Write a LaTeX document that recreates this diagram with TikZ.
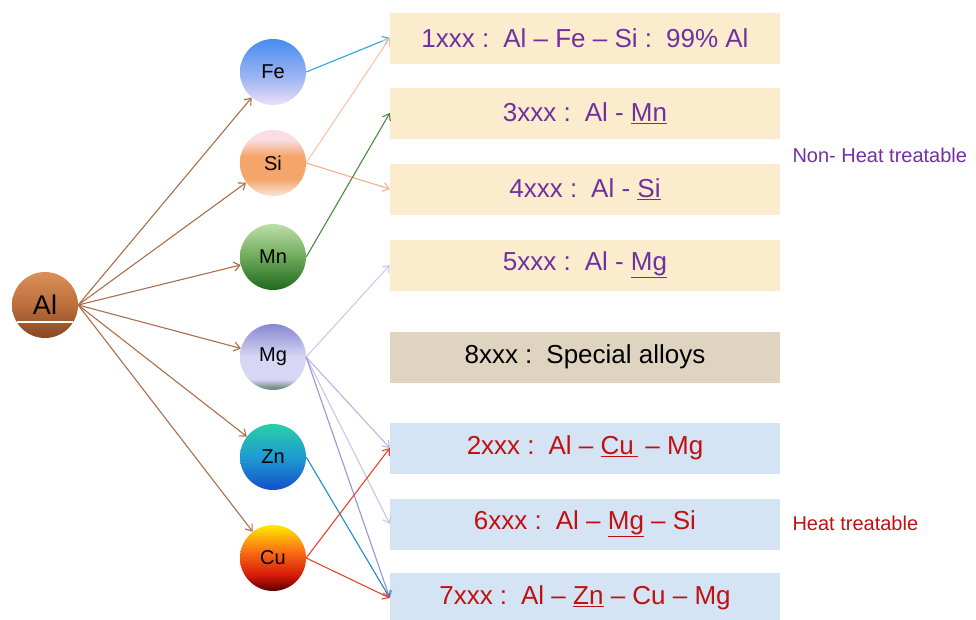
\documentclass[tikz,border=0pt]{standalone}
\usepackage{fontspec}
\setmainfont{Liberation Sans}
\usetikzlibrary{arrows.meta}
\definecolor{nonheat}{RGB}{112,48,160}
\definecolor{heat}{RGB}{192,16,16}
\definecolor{beige}{RGB}{250,236,205}
\definecolor{sand}{RGB}{222,212,192}
\definecolor{icy}{RGB}{212,228,244}
\definecolor{albrown}{RGB}{170,110,75}
\definecolor{felink}{RGB}{40,170,215}
\definecolor{silink}{RGB}{245,175,135}
\definecolor{mnlink}{RGB}{70,140,60}
\definecolor{mglink}{RGB}{150,150,215}
\definecolor{znlink}{RGB}{30,140,200}
\definecolor{culink}{RGB}{232,65,45}
% circle fills
\definecolor{alA}{RGB}{135,72,35}\definecolor{alB}{RGB}{188,110,60}\definecolor{alC}{RGB}{218,145,90}
\definecolor{feA}{RGB}{236,224,248}\definecolor{feB}{RGB}{160,182,242}\definecolor{feC}{RGB}{70,140,240}
\definecolor{siA}{RGB}{250,228,218}\definecolor{siB}{RGB}{245,165,105}\definecolor{siC}{RGB}{250,222,228}
\definecolor{mnA}{RGB}{30,105,30}\definecolor{mnB}{RGB}{110,170,90}\definecolor{mnC}{RGB}{188,222,168}
\definecolor{mgA}{RGB}{120,145,135}\definecolor{mgB}{RGB}{215,215,245}\definecolor{mgC}{RGB}{135,135,210}
\definecolor{znA}{RGB}{20,80,200}\definecolor{znB}{RGB}{30,155,210}\definecolor{znC}{RGB}{40,208,165}
\definecolor{cuA}{RGB}{90,0,0}\definecolor{cuB}{RGB}{215,25,10}\definecolor{cuC}{RGB}{250,110,20}\definecolor{cuD}{RGB}{255,235,0}
\pgfdeclareverticalshading{alshade}{100bp}{color(0bp)=(alA); color(25bp)=(alA); color(50bp)=(alB); color(75bp)=(alC); color(100bp)=(alC)}
\pgfdeclareverticalshading{feshade}{100bp}{color(0bp)=(feA); color(25bp)=(feA); color(45bp)=(feB); color(75bp)=(feC); color(100bp)=(feC)}
\pgfdeclareverticalshading{sishade}{100bp}{color(0bp)=(siA); color(25bp)=(siA); color(38bp)=(siB); color(55bp)=(siB); color(68bp)=(siC); color(100bp)=(siC)}
\pgfdeclareverticalshading{mnshade}{100bp}{color(0bp)=(mnA); color(25bp)=(mnA); color(50bp)=(mnB); color(75bp)=(mnC); color(100bp)=(mnC)}
\pgfdeclareverticalshading{mgshade}{100bp}{color(0bp)=(mgA); color(27bp)=(mgA); color(33bp)=(mgB); color(50bp)=(mgB); color(75bp)=(mgC); color(100bp)=(mgC)}
\pgfdeclareverticalshading{znshade}{100bp}{color(0bp)=(znA); color(25bp)=(znA); color(50bp)=(znB); color(75bp)=(znC); color(100bp)=(znC)}
\pgfdeclareverticalshading{cushade}{100bp}{color(0bp)=(cuA); color(25bp)=(cuA); color(37bp)=(cuB); color(55bp)=(cuC); color(75bp)=(cuD); color(100bp)=(cuD)}
\begin{document}
\begin{tikzpicture}[x=1pt,y=-1pt,
    elem/.style={circle, minimum size=66pt, inner sep=0pt, shading=#1, font=\fontsize{20}{20}\selectfont},
    alloy/.style={minimum width=390pt, minimum height=51pt, inner sep=0pt, font=\fontsize{26}{26}\selectfont},
    side/.style={anchor=west, font=\fontsize{20}{20}\selectfont},
    link/.style={-{Straight Barb[length=6pt,width=9pt]}, line width=1.1pt}]
  \useasboundingbox (0,0) rectangle (976,619);
  % elements
  \node[elem=alshade, font=\fontsize{27}{27}\selectfont] (al) at (45,305) {Al};
  \draw[white, line width=1.2pt] (17,322) -- (73,322);
  \node[elem=feshade] (fe) at (273,72) {Fe};
  \node[elem=sishade] (si) at (273,163) {Si};
  \node[elem=mnshade] (mn) at (273,257) {Mn};
  \node[elem=mgshade] (mg) at (273,357) {Mg};
  \node[elem=znshade] (zn) at (273,457) {Zn};
  \node[elem=cushade] (cu) at (273,558) {Cu};
  % alloy series
  \node[alloy, fill=beige, text=nonheat] (a1) at (585,38) {1xxx :\, Al -- Fe -- Si :\, 99\% Al};
  \node[alloy, fill=beige, text=nonheat] (a3) at (585,113) {3xxx :\, Al - \underline{Mn}};
  \node[alloy, fill=beige, text=nonheat] (a4) at (585,189) {4xxx :\, Al - \underline{Si}};
  \node[alloy, fill=beige, text=nonheat] (a5) at (585,265) {5xxx :\, Al - \underline{Mg}};
  \node[alloy, fill=sand] (a8) at (585,357) {8xxx :\, Special alloys};
  \node[alloy, fill=icy, text=heat] (a2) at (585,448) {2xxx :\, Al -- \underline{Cu\,} -- Mg};
  \node[alloy, fill=icy, text=heat] (a6) at (585,524) {6xxx :\, Al -- \underline{Mg} -- Si};
  \node[alloy, fill=icy, text=heat] (a7) at (585,598) {7xxx :\, Al -- \underline{Zn} -- Cu -- Mg};
  \node[side, text=nonheat] (nh) at (789,155) {Non- Heat treatable};
  \node[side, text=heat] (ht) at (789,523) {Heat treatable};
  % links
  \foreach \e in {fe,si,mn,mg,zn,cu}
    \draw[link, albrown] (al.east) -- (\e);
  \draw[link, felink] (fe.east) -- (a1.west);
  \draw[link, silink!70!white] (si.east) -- (a1.west);
  \draw[link, silink] (si.east) -- (a4.west);
  \draw[link, mnlink] (mn.east) -- (a3.west);
  \foreach \a/\s in {a5/50, a2/70, a6/55, a7/100}
    \draw[link, mglink!\s!white] (mg.east) -- (\a.west);
  \draw[link, znlink] (zn.east) -- (a7.west);
  \draw[link, culink] (cu.east) -- (a2.west);
  \draw[link, culink] (cu.east) -- (a7.west);
\end{tikzpicture}
\end{document}
